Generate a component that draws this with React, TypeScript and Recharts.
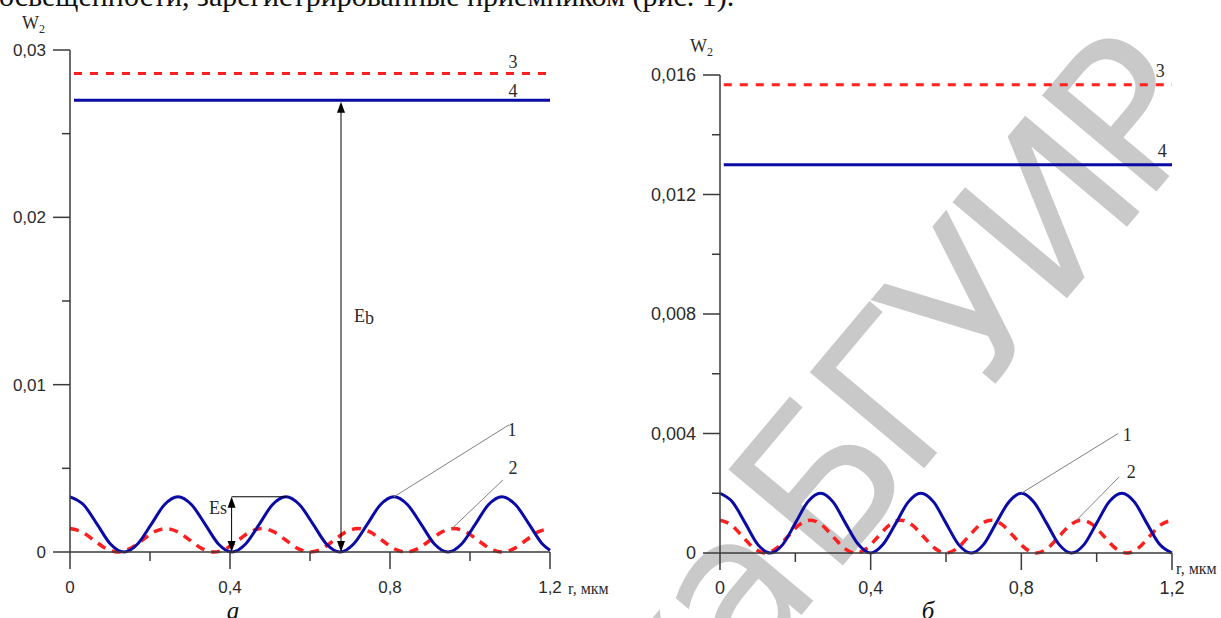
import React from "react";
import { LineChart, Line, XAxis, YAxis, ReferenceLine, ReferenceDot } from "recharts";

const BLUE = "#0a0aa6";
const RED = "#ff1f1f";
const INK = "#2b2b2b";
const AXIS = "#3a3a3a";
const LEADER = "#808080";
const SANS = "'Liberation Sans', Arial, sans-serif";
const SERIF = "'Liberation Serif', 'Times New Roman', serif";

const xTicks = [0, 0.2, 0.4, 0.6, 0.8, 1.0, 1.2];

// ---- panel "а" ----
const aYTicks = [0, 0.005, 0.01, 0.015, 0.02, 0.025, 0.03];

// curve 1 (blue)
const aX1 = [
  0, 0.034, 0.068, 0.101, 0.135, 0.169, 0.203, 0.236, 0.27, 0.304, 0.338, 0.371,
  0.405, 0.439, 0.473, 0.506, 0.54, 0.574, 0.608, 0.641, 0.675, 0.709, 0.743,
  0.776, 0.81, 0.844, 0.878, 0.911, 0.945, 0.979, 1.013, 1.046, 1.08, 1.114,
  1.148, 1.181, 1.2,
];
const aW1 = [
  0.0033, 0.00282, 0.00165, 0.00048, 0, 0.00048, 0.00165, 0.00282,
  0.0033, 0.00282, 0.00165, 0.00048, 0, 0.00048, 0.00165, 0.00282,
  0.0033, 0.00282, 0.00165, 0.00048, 0, 0.00048, 0.00165, 0.00282,
  0.0033, 0.00282, 0.00165, 0.00048, 0, 0.00048, 0.00165, 0.00282,
  0.0033, 0.00282, 0.00165, 0.00048, 0.0001,
];

// curve 2 (red dashed)
const aX2 = [
  0, 0.03, 0.06, 0.09, 0.12, 0.15, 0.18, 0.21, 0.24, 0.27, 0.3, 0.33, 0.36, 0.39,
  0.42, 0.45, 0.48, 0.51, 0.54, 0.57, 0.6, 0.63, 0.66, 0.69, 0.72, 0.75, 0.78,
  0.81, 0.84, 0.87, 0.9, 0.93, 0.96, 0.99, 1.02, 1.05, 1.08, 1.11, 1.14, 1.17, 1.2,
];
const aW2 = [
  0.0014, 0.0012, 0.0007, 0.0002, 0, 0.0002, 0.0007, 0.0012,
  0.0014, 0.0012, 0.0007, 0.0002, 0, 0.0002, 0.0007, 0.0012,
  0.0014, 0.0012, 0.0007, 0.0002, 0, 0.0002, 0.0007, 0.0012,
  0.0014, 0.0012, 0.0007, 0.0002, 0, 0.0002, 0.0007, 0.0012,
  0.0014, 0.0012, 0.0007, 0.0002, 0, 0.0002, 0.0007, 0.0012,
  0.0014,
];
const aLevel3 = 0.0286;
const aLevel4 = 0.027;

// ---- panel "б" ----
const bYTicks = [0, 0.002, 0.004, 0.006, 0.008, 0.01, 0.012, 0.014, 0.016];

const bX1 = [
  0, 0.033, 0.067, 0.1, 0.133, 0.167, 0.2, 0.233, 0.267, 0.3, 0.333, 0.367, 0.4,
  0.433, 0.467, 0.5, 0.533, 0.567, 0.6, 0.633, 0.667, 0.7, 0.733, 0.767, 0.8,
  0.833, 0.867, 0.9, 0.933, 0.967, 1, 1.033, 1.067, 1.1, 1.133, 1.167, 1.2,
];
const bW1 = [
  0.002, 0.00171, 0.001, 0.00029, 0, 0.00029, 0.001, 0.00171,
  0.002, 0.00171, 0.001, 0.00029, 0, 0.00029, 0.001, 0.00171,
  0.002, 0.00171, 0.001, 0.00029, 0, 0.00029, 0.001, 0.00171,
  0.002, 0.00171, 0.001, 0.00029, 0, 0.00029, 0.001, 0.00171,
  0.002, 0.00171, 0.001, 0.00029, 0,
];

const bX2 = [
  0, 0.03, 0.06, 0.09, 0.12, 0.15, 0.18, 0.21, 0.24, 0.27, 0.3, 0.33, 0.36, 0.39,
  0.42, 0.45, 0.48, 0.51, 0.54, 0.57, 0.6, 0.63, 0.66, 0.69, 0.72, 0.75, 0.78,
  0.81, 0.84, 0.87, 0.9, 0.93, 0.96, 0.99, 1.02, 1.05, 1.08, 1.11, 1.14, 1.17, 1.2,
];
const bW2 = [
  0.0011, 0.00094, 0.00055, 0.00016, 0, 0.00016, 0.00055, 0.00094,
  0.0011, 0.00094, 0.00055, 0.00016, 0, 0.00016, 0.00055, 0.00094,
  0.0011, 0.00094, 0.00055, 0.00016, 0, 0.00016, 0.00055, 0.00094,
  0.0011, 0.00094, 0.00055, 0.00016, 0, 0.00016, 0.00055, 0.00094,
  0.0011, 0.00094, 0.00055, 0.00016, 0, 0.00016, 0.00055, 0.00094,
  0.0011,
];
const bLevel3 = 0.01567;
const bLevel4 = 0.013;

// annotations (data coords)
const aArrows = [
  [0.6775, 0, 0.0269], // Eb
  [0.404, 0, 0.0033], // Es
];
const aCaps = [[0.404, 0.0033, 0.5417, 0.0033]];
const aLeaders = [
  [0.81, 0.0033, 1.0975, 0.0076],
  [0.954, 0.00138, 1.0825, 0.00431],
];
const aTags = [
  { text: "1", x: 1.105, y: 0.0073 },
  { text: "2", x: 1.1075, y: 0.005 },
  { text: "3", x: 1.1075, y: 0.0293 },
  { text: "4", x: 1.1075, y: 0.02754 },
  { text: "E", sub: "b", x: 0.735, y: 0.01413 },
  { text: "Es", x: 0.37, y: 0.00263 },
];

const bLeaders = [
  [0.8, 0.002, 1.057, 0.004],
  [0.945, 0.00108, 1.06, 0.00255],
];
const bTags = [
  { text: "1", x: 1.081, y: 0.00395 },
  { text: "2", x: 1.092, y: 0.00271 },
  { text: "3", x: 1.169, y: 0.01613 },
  { text: "4", x: 1.174, y: 0.01347 },
];

const pts = (xs: number[], ws: number[]) => xs.map((x, i) => ({ x, w: ws[i] }));
const isMajor = (v: number, step: number) => Math.abs(v / step - Math.round(v / step)) < 1e-6;
const fmt = (v: number) => (v === 0 ? "0" : String(v).replace(".", ","));

function XTick({ x, y, payload, fontSize }: any) {
  const v = payload.value;
  const major = isMajor(v, 0.4);
  return (
    <g>
      <line x1={x} y1={y} x2={x} y2={y + (major ? 17 : 9)} stroke={AXIS} strokeWidth={1.5} />
      {major && (
        <text x={x} y={y + 41} textAnchor="middle" fontSize={fontSize} fontFamily={SANS} fill={INK}>
          {fmt(v)}
        </text>
      )}
    </g>
  );
}

function YTick({ x, y, payload, fontSize, step }: any) {
  const v = payload.value;
  const major = isMajor(v, step);
  return (
    <g>
      <line x1={x - (major ? 17 : 8)} y1={y} x2={x} y2={y} stroke={AXIS} strokeWidth={1.5} />
      {major && (
        <text x={x - 24} y={y + 6} textAnchor="end" fontSize={fontSize} fontFamily={SANS} fill={INK}>
          {fmt(v)}
        </text>
      )}
    </g>
  );
}

function DoubleArrow(p: any) {
  const { x1, y1, x2, y2 } = p;
  const top = Math.min(y1, y2);
  const bot = Math.max(y1, y2);
  const x = x1;
  return (
    <g>
      <line x1={x} y1={top + 3} x2={x} y2={bot - 3} stroke="#000" strokeWidth={1} />
      <polygon points={`${x},${top} ${x - 4},${top + 11} ${x + 4},${top + 11}`} fill="#000" />
      <polygon points={`${x},${bot} ${x - 4},${bot - 11} ${x + 4},${bot - 11}`} fill="#000" />
    </g>
  );
}

const tagShape = (t: any) => (p: any) => (
  <text x={p.cx} y={p.cy + 6} textAnchor="middle" fontSize={18} fontFamily={SERIF} fill={INK}>
    {t.text}
    {t.sub && <tspan dy={2}>{t.sub}</tspan>}
  </text>
);

function Panel(props: any) {
  const {
    left, width, top, xh, right, yMax, yTicks, yStep, fontSize,
    c1, c2, level3, level4, arrows, caps, leaders, tags,
  } = props;
  return (
    <div style={{ position: "absolute", left, top: 0 }}>
      <LineChart width={width} height={618} margin={{ top, right, bottom: 0, left: 0 }}>
        <XAxis
          dataKey="x"
          type="number"
          domain={[0, 1.2]}
          ticks={xTicks}
          interval={0}
          height={xh}
          tickSize={0}
          tickMargin={0}
          tickLine={false}
          axisLine={{ stroke: AXIS, strokeWidth: 1.5 }}
          tick={(p: any) => <XTick {...p} fontSize={fontSize} />}
        />
        <YAxis
          type="number"
          domain={[0, yMax]}
          ticks={yTicks}
          interval={0}
          width={70}
          tickSize={0}
          tickMargin={0}
          tickLine={false}
          axisLine={{ stroke: AXIS, strokeWidth: 1.5 }}
          tick={(p: any) => <YTick {...p} fontSize={fontSize} step={yStep} />}
        />
        <Line data={[{ x: 0.01, w: level3 }, { x: 1.2, w: level3 }]} dataKey="w" stroke={RED}
          strokeWidth={3} strokeDasharray="8 8" dot={false} isAnimationActive={false} />
        <Line data={[{ x: 0.01, w: level4 }, { x: 1.2, w: level4 }]} dataKey="w" stroke={BLUE}
          strokeWidth={3} dot={false} isAnimationActive={false} />
        <Line data={c2} dataKey="w" type="monotone" stroke={RED} strokeWidth={3.5}
          strokeDasharray="9 7" dot={false} isAnimationActive={false} />
        <Line data={c1} dataKey="w" type="monotone" stroke={BLUE} strokeWidth={3}
          dot={false} isAnimationActive={false} />
        {leaders.map((s: number[], i: number) => (
          <ReferenceLine key={"l" + i} segment={[{ x: s[0], y: s[1] }, { x: s[2], y: s[3] }]}
            stroke={LEADER} strokeWidth={1} ifOverflow="visible" />
        ))}
        {caps.map((s: number[], i: number) => (
          <ReferenceLine key={"c" + i} segment={[{ x: s[0], y: s[1] }, { x: s[2], y: s[3] }]}
            stroke="#000" strokeWidth={1} ifOverflow="visible" />
        ))}
        {arrows.map((s: number[], i: number) => (
          <ReferenceLine key={"a" + i} segment={[{ x: s[0], y: s[1] }, { x: s[0], y: s[2] }]}
            ifOverflow="visible" shape={DoubleArrow} />
        ))}
        {tags.map((t: any, i: number) => (
          <ReferenceDot key={"t" + i} x={t.x} y={t.y} r={0} ifOverflow="visible" shape={tagShape(t)} />
        ))}
      </LineChart>
    </div>
  );
}

export default function App() {
  const wm = { fontSize: 205, fontFamily: "'DejaVu Sans', sans-serif", fill: "#c9c9c9", letterSpacing: -14 };
  return (
    <div style={{ position: "fixed", left: 0, top: 0, width: 1221, height: 618, overflow: "hidden", background: "#fff" }}>
      <svg width={1221} height={618} style={{ position: "absolute", left: 0, top: 0 }}>
        <g transform="translate(1022,352) rotate(-50)">
          <text x={0} y={0} textAnchor="middle" {...wm}>БГУИР</text>
          <text x={-320} y={0} textAnchor="end" {...wm}>ека</text>
        </g>
      </svg>

      <Panel
        left={0} width={620} top={50} xh={66} right={70}
        yMax={0.03} yTicks={aYTicks} yStep={0.01} fontSize={17}
        c1={pts(aX1, aW1)} c2={pts(aX2, aW2)} level3={aLevel3} level4={aLevel4}
        arrows={aArrows} caps={aCaps} leaders={aLeaders} tags={aTags}
      />
      <Panel
        left={650} width={571} top={75} xh={65} right={49}
        yMax={0.016} yTicks={bYTicks} yStep={0.004} fontSize={18}
        c1={pts(bX1, bW1)} c2={pts(bX2, bW2)} level3={bLevel3} level4={bLevel4}
        arrows={[]} caps={[]} leaders={bLeaders} tags={bTags}
      />

      <svg width={1221} height={618} style={{ position: "absolute", left: 0, top: 0, pointerEvents: "none" }}>
        <text x={-1} y={6} fontSize={30} fontFamily={SERIF} fill="#111">
          освещенности, зарегистрированные приемником (рис. 1).
        </text>
        <text x={22} y={29} fontSize={18} fontFamily={SERIF} fill={INK}>
          W<tspan fontSize={12} dy={4}>2</tspan>
        </text>
        <text x={690} y={52} fontSize={18} fontFamily={SERIF} fill={INK}>
          W<tspan fontSize={12} dy={4}>2</tspan>
        </text>
        <text x={568} y={594} fontSize={16} fontFamily={SERIF} fill={INK}>r, мкм</text>
        <text x={1176} y={574} fontSize={16} fontFamily={SERIF} fill={INK}>r, мкм</text>
        <text x={233} y={619} textAnchor="middle" fontSize={25} fontStyle="italic" fontFamily={SERIF} fill="#111">а</text>
        <text x={928} y={619} textAnchor="middle" fontSize={25} fontStyle="italic" fontFamily={SERIF} fill="#111">б</text>
      </svg>
    </div>
  );
}
